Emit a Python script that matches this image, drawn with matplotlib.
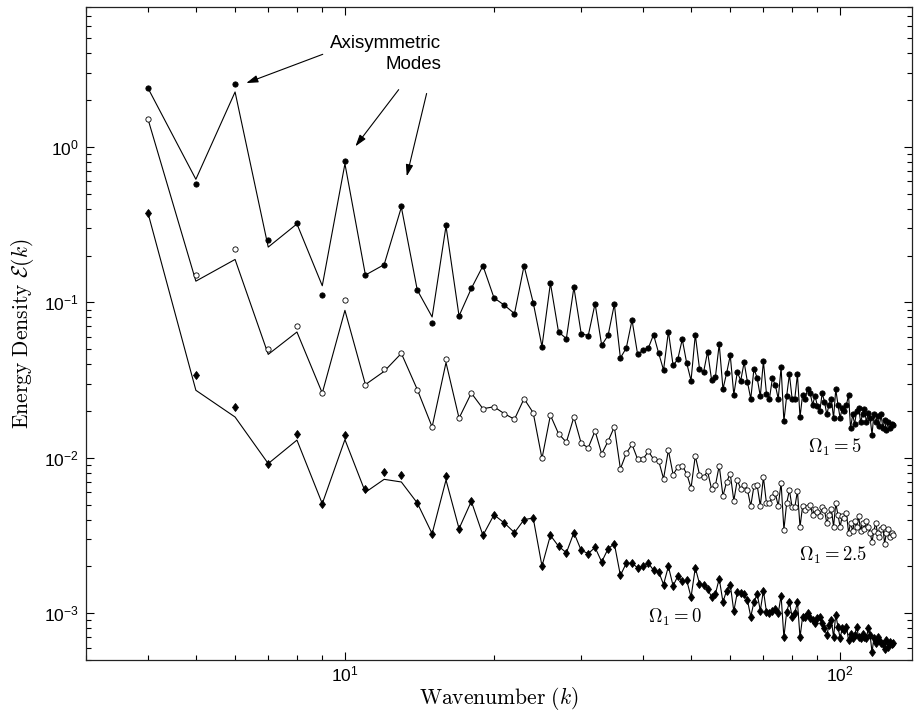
import matplotlib
matplotlib.use("Agg")
import matplotlib.pyplot as plt
import numpy as np

plt.rcParams['font.family'] = ['Liberation Sans', 'DejaVu Sans']
plt.rcParams['axes.unicode_minus'] = False

# wavenumbers k = 4 ... 128
k = np.arange(4, 129)

# Omega_1 = 5 : data points (filled circles)
mark_5 = [
    2.38, 0.58, 2.54, 0.251, 0.323, 0.111, 0.818, 0.149, 0.175, 0.42,
    0.120, 0.0741, 0.317, 0.0818, 0.123, 0.172, 0.107, 0.0958, 0.0847, 0.172,
    0.0997, 0.052, 0.133, 0.0645, 0.0585, 0.125, 0.063, 0.0611, 0.0982, 0.053,
    0.0614, 0.0972, 0.0439, 0.0509, 0.077, 0.0464, 0.0492, 0.0509, 0.062, 0.0473,
    0.0367, 0.0649, 0.0394, 0.043, 0.0579, 0.0407, 0.0314, 0.062, 0.0375, 0.0356,
    0.0482, 0.0319, 0.0331, 0.054, 0.0277, 0.0351, 0.0457, 0.0255, 0.0356, 0.0314,
    0.0412, 0.0307, 0.024, 0.0375, 0.0326, 0.0249, 0.0418, 0.0259, 0.024, 0.0326,
    0.0293, 0.024, 0.0382, 0.0172, 0.025, 0.0345, 0.024, 0.024, 0.0344, 0.0183,
    0.0255, 0.024, 0.0279, 0.026, 0.022, 0.025, 0.0215, 0.020, 0.026, 0.023,
    0.019, 0.022, 0.024, 0.018, 0.0276, 0.022, 0.018, 0.021, 0.02, 0.022,
    0.0253, 0.0155, 0.019, 0.0165, 0.02, 0.021, 0.017, 0.019, 0.0205, 0.017,
    0.0195, 0.018, 0.0141, 0.019, 0.017, 0.0185, 0.016, 0.019, 0.0155, 0.0175,
    0.015, 0.017, 0.0155, 0.0165, 0.0162,
]
# model line, k = 4 ... 21 (beyond that it runs through the points)
line_5_head = [2.4, 0.62, 2.26, 0.227, 0.32, 0.128, 0.78, 0.15, 0.175, 0.41,
               0.12, 0.0806, 0.31, 0.0818, 0.123, 0.172, 0.107, 0.0958]

# Omega_1 = 2.5 : open circles
mark_25 = [
    1.52, 0.151, 0.22, 0.0504, 0.0705, 0.0261, 0.103, 0.0296, 0.0375, 0.047,
    0.0275, 0.0158, 0.043, 0.018, 0.0261, 0.0207, 0.0213, 0.0192, 0.0177, 0.024,
    0.0195, 0.0099, 0.0188, 0.0143, 0.0126, 0.0183, 0.0124, 0.0116, 0.0149, 0.0106,
    0.0128, 0.0158, 0.0085, 0.0107, 0.0122, 0.0098, 0.0098, 0.011, 0.0098, 0.0096,
    0.00734, 0.0112, 0.0078, 0.0087, 0.0089, 0.0079, 0.0064, 0.0103, 0.0078, 0.0075,
    0.0082, 0.0063, 0.00665, 0.0089, 0.00568, 0.0070, 0.0079, 0.0053, 0.0072, 0.0063,
    0.0067, 0.0062, 0.0049, 0.0066, 0.00665, 0.0049, 0.0075, 0.0051, 0.0051, 0.0056,
    0.0059, 0.0049, 0.0069, 0.00345, 0.0051, 0.0062, 0.0048, 0.0048, 0.0061, 0.0036,
    0.0049, 0.0046, 0.0048, 0.005, 0.0043, 0.0047, 0.0045, 0.0042, 0.0048, 0.0046,
    0.0038, 0.0043, 0.0047, 0.0036, 0.0051, 0.0043, 0.0036, 0.0042, 0.0041, 0.0044,
    0.0033, 0.0038, 0.0034, 0.0039, 0.0036, 0.0042, 0.0034, 0.0038, 0.0035, 0.0039,
    0.0036, 0.0033, 0.00287, 0.0034, 0.0038, 0.0033, 0.0031, 0.0035, 0.0036, 0.0028,
    0.0033, 0.0035, 0.0031, 0.0033, 0.0032,
]
line_25_head = [1.52, 0.137, 0.189, 0.0463, 0.0645, 0.0261, 0.0889, 0.0296, 0.036, 0.047,
                0.0275, 0.0158, 0.041, 0.018, 0.0261, 0.0207, 0.0213, 0.0192]

# Omega_1 = 0 : diamonds
mark_0 = [
    0.378, 0.0343, 0.0212, 0.00918, 0.0142, 0.00507, 0.0140, 0.00633, 0.0081, 0.0077,
    0.00512, 0.00325, 0.00764, 0.0035, 0.00525, 0.00317, 0.0043, 0.0038, 0.0033, 0.004,
    0.0041, 0.00201, 0.00317, 0.0027, 0.00245, 0.0033, 0.00254, 0.00242, 0.00265, 0.00214,
    0.0026, 0.0028, 0.00175, 0.0021, 0.0021, 0.00196, 0.002, 0.0021, 0.00189, 0.00185,
    0.00153, 0.002, 0.0015, 0.00173, 0.0016, 0.00163, 0.00127, 0.00196, 0.00155, 0.00153,
    0.00144, 0.00127, 0.00133, 0.00167, 0.00118, 0.0014, 0.00153, 0.00103, 0.00136, 0.00135,
    0.00133, 0.00121, 0.00095, 0.00118, 0.00133, 0.00104, 0.0014, 0.00102, 0.001, 0.00104,
    0.00107, 0.001, 0.0013, 0.0007, 0.00102, 0.00118, 0.00095, 0.001, 0.00118, 0.0007,
    0.00095, 0.00095, 0.001, 0.00093, 0.00091, 0.00086, 0.00093, 0.00095, 0.00086, 0.0008,
    0.00072, 0.00084, 0.00091, 0.0007, 0.00098, 0.00082, 0.00069, 0.0008, 0.00078, 0.00082,
    0.00067, 0.00073, 0.00069, 0.00072, 0.00082, 0.0007, 0.00069, 0.00073, 0.0007, 0.00069,
    0.0008, 0.00072, 0.00056, 0.00069, 0.00064, 0.0007, 0.00067, 0.00064, 0.00063, 0.00059,
    0.00067, 0.00061, 0.00065, 0.00063, 0.00064,
]
line_0_head = [0.378, 0.0272, 0.0183, 0.00918, 0.0130, 0.00507, 0.0131, 0.0060, 0.00727, 0.00699,
               0.00512, 0.00325, 0.0072, 0.0035, 0.00525, 0.00317, 0.0043, 0.0038]

n_head = len(line_5_head)
line_5 = line_5_head + mark_5[n_head:]
line_25 = line_25_head + mark_25[n_head:]
line_0 = line_0_head + mark_0[n_head:]

fig = plt.figure(figsize=(9.16, 7.17), dpi=100)
ax = fig.add_axes([0.0939, 0.0795, 0.9014, 0.9112])

lw = 0.8
ax.plot(k, line_5, color='black', lw=lw, zorder=2)
ax.plot(k, line_25, color='black', lw=lw, zorder=2)
ax.plot(k, line_0, color='black', lw=lw, zorder=2)

ax.plot(k, mark_5, ls='none', marker='o', ms=3.8, mfc='black', mec='black', mew=0.6, zorder=3)
ax.plot(k, mark_25, ls='none', marker='o', ms=3.8, mfc='white', mec='black', mew=0.6, zorder=3)
ax.plot(k, mark_0, ls='none', marker='d', ms=4.5, mfc='black', mec='black', mew=0.6, zorder=3)

ax.set_xscale('log')
ax.set_yscale('log')
ax.set_xlim(3, 139.5)
ax.set_ylim(5e-4, 8)

ax.tick_params(which='both', direction='in', top=True, right=True, labelsize=12.5, width=0.8)
ax.tick_params(which='major', length=6)
ax.tick_params(axis='y', which='major', pad=5)
ax.tick_params(axis='x', which='major', pad=3)
ax.tick_params(which='minor', length=3.5)
for s in ax.spines.values():
    s.set_linewidth(0.9)
    s.set_color('#222222')

ax.set_xlabel(r'$\mathrm{Wavenumber}\ (k)$', fontsize=15.5, math_fontfamily='cm', labelpad=1)
ax.set_ylabel(r'$\mathrm{Energy\ Density}\ \mathcal{E}(k)$', fontsize=15.5, math_fontfamily='cm', labelpad=6)

# axisymmetric mode annotation
ax.text(15.64, 5.23, 'Axisymmetric\nModes', ha='right', va='top', fontsize=13.5,
        linespacing=1.25, multialignment='right')
arrow = dict(arrowstyle='-|>,head_length=0.7,head_width=0.22', color='black', lw=0.8,
             shrinkA=0, shrinkB=0)
ax.annotate('', xy=(6.32, 2.58), xytext=(9.02, 3.95), arrowprops=arrow)
ax.annotate('', xy=(10.5, 1.01), xytext=(12.84, 2.34), arrowprops=arrow)
ax.annotate('', xy=(13.33, 0.648), xytext=(14.62, 2.21), arrowprops=arrow)

ax.text(97.5, 0.01175, r'$\Omega_1 = 5$', ha='center', va='center', fontsize=13.5, math_fontfamily='cm')
ax.text(96.9, 0.00236, r'$\Omega_1 = 2.5$', ha='center', va='center', fontsize=13.5, math_fontfamily='cm')
ax.text(46.3, 0.000945, r'$\Omega_1 = 0$', ha='center', va='center', fontsize=13.5, math_fontfamily='cm')

fig.savefig('out.png', dpi=100)
